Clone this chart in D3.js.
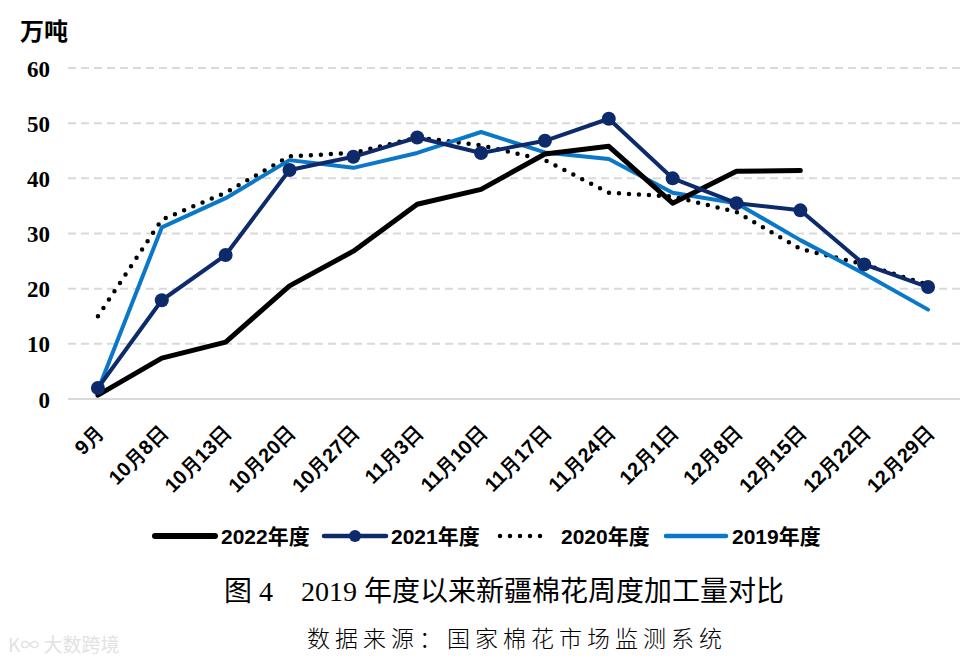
<!DOCTYPE html>
<html><head><meta charset="utf-8">
<script src="https://cdn.jsdelivr.net/npm/d3@7/dist/d3.min.js"></script>
<style>body{margin:0;background:#fff}svg{display:block}</style>
</head><body>
<svg id="c" width="976" height="663"></svg>
<script>
const categories = ["9月","10月8日","10月13日","10月20日","10月27日","11月3日","11月10日","11月17日","11月24日","12月1日","12月8日","12月15日","12月22日","12月29日"];
const s2022 = [0.7,7.4,10.3,20.5,26.8,35.3,38.0,44.4,45.8,35.5,41.3,41.4,null,null];
const s2021 = [2.0,17.9,26.1,41.5,43.9,47.4,44.6,46.8,50.8,40.0,35.5,34.2,24.4,20.3];
const s2020 = [15.0,32.5,37.4,44.0,44.6,47.4,46.0,43.3,37.4,36.7,33.9,27.2,24.4,20.7];
const s2019 = [1.6,31.1,36.4,43.3,41.9,44.6,48.4,44.7,43.5,37.4,35.5,28.8,22.7,16.2];
const yTicks = [0,10,20,30,40,50,60];
const seriesNames = ["2022年度","2021年度","2020年度","2019年度"];

const svg = d3.select("#c");
const x = d3.scaleBand().domain(categories).range([66, 960]);
const y = d3.scaleLinear().domain([0, 60]).range([399, 68]);
const cx = d => x(d) + x.bandwidth()/2;

// gridlines
svg.append("g").selectAll("line").data(yTicks).join("line")
  .attr("x1", 68).attr("x2", 960).attr("y1", d=>y(d)).attr("y2", d=>y(d))
  .attr("stroke", "#d9d9d9").attr("stroke-width", 2)
  .attr("stroke-dasharray", d => d===0 ? null : "8,5");

// y axis
const yAxis = d3.axisLeft(y).tickValues(yTicks).tickSize(0).tickPadding(0);
const yg = svg.append("g").attr("transform","translate(50,0)").call(yAxis);
yg.select(".domain").remove();
yg.selectAll("text").attr("font-family","'Liberation Serif',serif").attr("font-weight","bold")
  .attr("font-size", 23).attr("fill","#000").attr("dy","0.35em");

// x axis
const xAxis = d3.axisBottom(x).tickSize(0).tickPadding(0);
const xg = svg.append("g").attr("transform","translate(0,399)").call(xAxis);
xg.select(".domain").remove();
xg.selectAll("text")
  .attr("font-family","'Liberation Sans',Arial,sans-serif").attr("font-weight","bold")
  .attr("font-size", 20).attr("fill","#000")
  .attr("text-anchor","end").attr("dy", null).attr("y", 0)
  .attr("transform","translate(7,35) rotate(-45)");

svg.append("text").attr("x", 20).attr("y", 40).text("万吨")
  .attr("font-family","'Noto Sans CJK SC',sans-serif").attr("font-weight","bold")
  .attr("font-size", 24).attr("fill","#000");

const line = d3.line().defined(d => d.v !== null).x(d => cx(d.c)).y(d => y(d.v));
const mk = arr => categories.map((c,i)=>({c, v: arr[i]}));

// 2020 dotted
svg.append("path").datum(mk(s2020)).attr("d", line).attr("fill","none")
  .attr("stroke","#000").attr("stroke-width",4.5).attr("stroke-linecap","round")
  .attr("stroke-dasharray","0,10");
// 2019
svg.append("path").datum(mk(s2019)).attr("d", line).attr("fill","none")
  .attr("stroke","#0a78c8").attr("stroke-width",4).attr("stroke-linejoin","round").attr("stroke-linecap","round");
// 2022
svg.append("path").datum(mk(s2022)).attr("d", line).attr("fill","none")
  .attr("stroke","#000").attr("stroke-width",5).attr("stroke-linejoin","round").attr("stroke-linecap","round");
// 2021
svg.append("path").datum(mk(s2021)).attr("d", line).attr("fill","none")
  .attr("stroke","#0d2b6b").attr("stroke-width",4).attr("stroke-linejoin","round");
svg.append("g").selectAll("circle").data(mk(s2021)).join("circle")
  .attr("cx", d=>cx(d.c)).attr("cy", d=>y(d.v)).attr("r", 7).attr("fill","#0d2b6b");

// legend
const lg = svg.append("g");
const ly = 536;
const legendItems = [
  {x1:155, x2:215, tx:221, color:"#000", w:6, dash:null, marker:false},
  {x1:324, x2:386, tx:391, color:"#0d2b6b", w:4.5, dash:null, marker:true},
  {x1:500, x2:550, tx:561, color:"#000", w:4.5, dash:"0,10", marker:false},
  {x1:666, x2:726, tx:732, color:"#0a78c8", w:4.5, dash:null, marker:false}
];
legendItems.forEach((it,i)=>{
  lg.append("line").attr("x1",it.x1).attr("x2",it.x2).attr("y1",ly).attr("y2",ly)
    .attr("stroke",it.color).attr("stroke-width",it.w).attr("stroke-linecap","round")
    .attr("stroke-dasharray",it.dash);
  if(it.marker) lg.append("circle").attr("cx",(it.x1+it.x2)/2).attr("cy",ly).attr("r",6).attr("fill",it.color);
  lg.append("text").attr("x",it.tx).attr("y",ly).attr("dy","0.36em").text(seriesNames[i])
    .attr("font-family","'Liberation Sans','Noto Sans CJK SC',sans-serif").attr("font-weight","bold")
    .attr("font-size",21).attr("fill","#000");
});

// title
svg.append("text").attr("x", 504).attr("y", 601).attr("text-anchor","middle")
  .attr("font-family","'Liberation Serif','Noto Sans CJK SC',serif").attr("font-size",28).attr("fill","#000")
  .text("图 4　2019 年度以来新疆棉花周度加工量对比");
svg.append("text").attr("x", 517).attr("y", 647).attr("text-anchor","middle")
  .attr("font-family","'Noto Sans CJK SC',sans-serif").attr("font-weight",300).attr("font-size",23).attr("fill","#000")
  .attr("letter-spacing", 5)
  .text("数据来源：国家棉花市场监测系统");
// watermark
svg.append("text").attr("x", 8).attr("y", 652)
  .attr("font-family","'Noto Sans CJK SC',sans-serif").attr("font-size",19).attr("fill","#e2e2e2")
  .text("K∞ 大数跨境");
</script>
</body></html>
